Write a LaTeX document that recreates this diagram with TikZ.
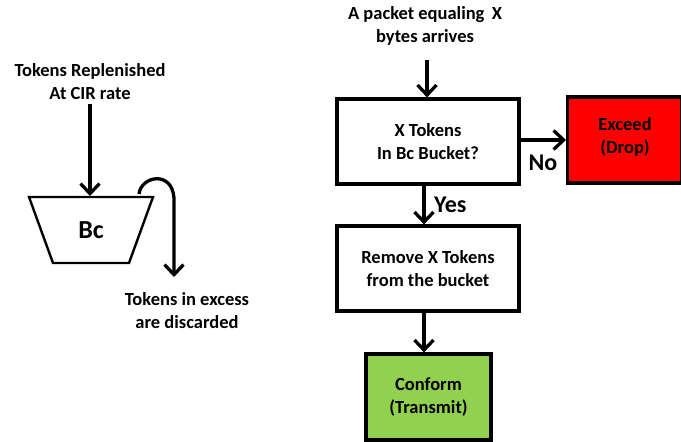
\documentclass[tikz,border=0pt]{standalone}
\usepackage{fontspec}
\setmainfont{Carlito}
\usetikzlibrary{arrows.meta}
\begin{document}
\begin{tikzpicture}[x=1pt,y=-1pt,
  txt/.style={font=\bfseries\fontsize{18.5}{23}\selectfont, align=center, inner sep=0pt},
  big/.style={font=\bfseries\fontsize{26}{28}\selectfont, inner sep=0pt},
  lbl/.style={font=\bfseries\fontsize{24}{26}\selectfont, inner sep=0pt},
  flow/.style={line width=3.3pt, -{Straight Barb[length=10pt,width=19pt,line width=3.3pt]}},
  boxst/.style={draw, line width=3.2pt}]
\useasboundingbox (0,0) rectangle (681,442);
% fill colours
\definecolor{dropred}{HTML}{FF0000}
\definecolor{passgreen}{HTML}{92D050}

% ---- token bucket ----
\node[txt] (repl) at (90,82) {Tokens Replenished\\At CIR rate};
\draw[line width=2.4pt, line join=miter] (29,197) -- (153,197) -- (129,263) -- (53,263) -- cycle;
\node[big] (bc) at (91,230) {Bc};
\coordinate (bucketin) at (90,196);
\draw[flow] (90,104) -- (bucketin);
\coordinate (spill) at (139,194);
\coordinate (spillend) at (174,277);
\draw[flow] (spill) .. controls (141,176) and (172,170) .. (174,198) -- (spillend);
\node[txt] (excess) at (187,311) {Tokens in excess\\are discarded};

% ---- policer decision flow ----
\node[txt] (pkt) at (425,26) {A packet equaling \,X\\bytes arrives};
\node[boxst, minimum width=182pt, minimum height=85pt, txt] (check) at (428,141.5) {X Tokens\\In Bc Bucket?};
\node[boxst, fill=dropred, minimum width=114pt, minimum height=86pt, txt, anchor=west] (drop) at (566,140) {};
\node[txt] (droptxt) at (625,137) {Exceed\\(Drop)};
\node[boxst, minimum width=182pt, minimum height=85pt, txt] (remove) at (428,268.5) {Remove X Tokens\\from the bucket};
\node[boxst, fill=passgreen, minimum width=125pt, minimum height=86pt, txt] (conform) at (428.5,397) {Conform\\(Transmit)};

\draw[flow] (427,60) -- (check.north -| 427,0);
\draw[flow] (check.east |- 0,140) -- (drop.west);
\node[lbl] (no) at (543,163) {No};
\draw[flow] (check.south -| 424,0) -- (remove.north -| 424,0);
\node[lbl, anchor=west] (yes) at (434,205) {Yes};
\draw[flow] (remove.south -| 424,0) -- (conform.north -| 424,0);
\end{tikzpicture}
\end{document}
